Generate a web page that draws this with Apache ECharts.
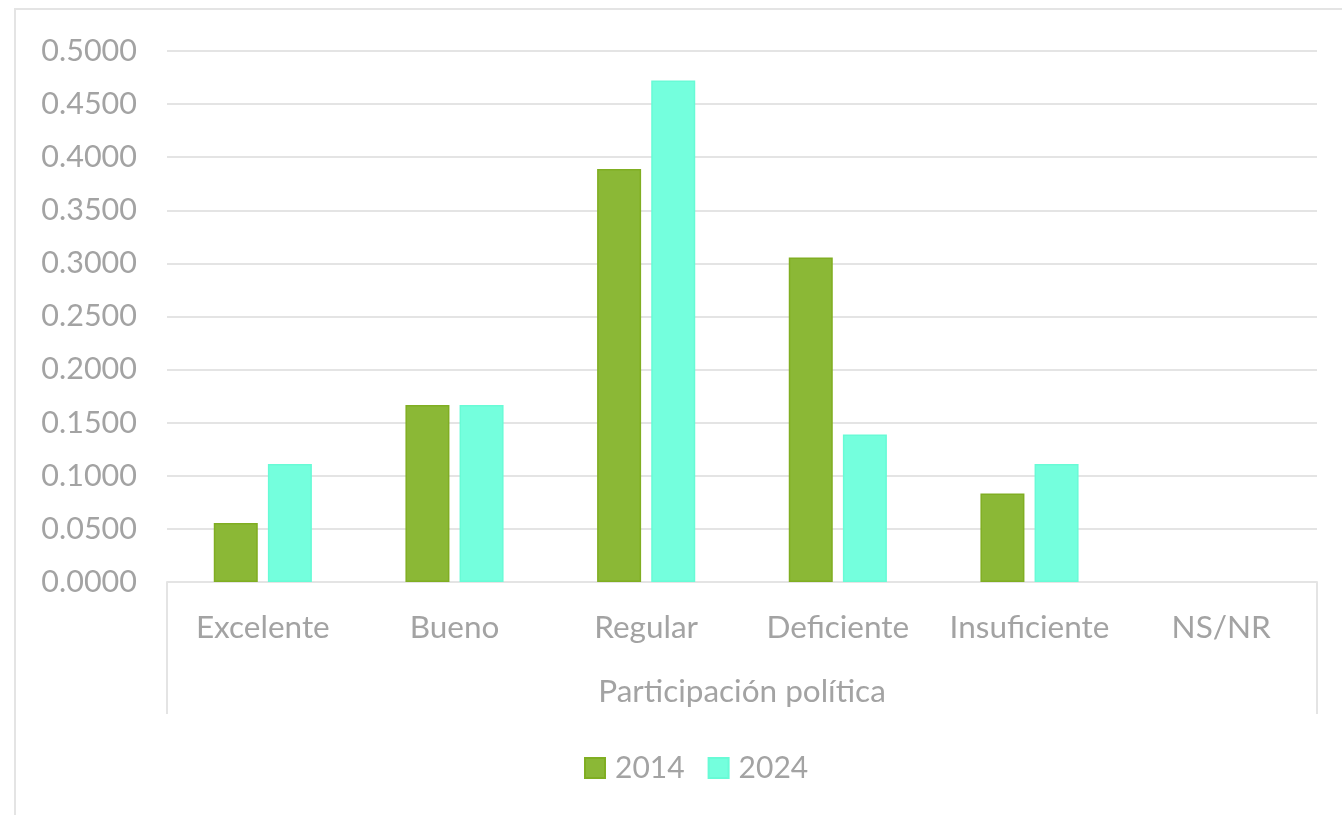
<!DOCTYPE html>
<html>
<head>
<meta charset="utf-8">
<script src="https://cdn.jsdelivr.net/npm/echarts@6/dist/echarts.min.js"></script>
<style>
html,body{margin:0;padding:0;background:#fff;}
#main{width:1342px;height:815px;}
</style>
</head>
<body>
<div id="main"></div>
<script>
const categories = ['Excelente', 'Bueno', 'Regular', 'Deficiente', 'Insuficiente', 'NS/NR'];
const values2014 = [0.0556, 0.1667, 0.3889, 0.3056, 0.0833, 0];
const values2024 = [0.1111, 0.1667, 0.4722, 0.1389, 0.1111, 0];
const seriesNames = ['2014', '2024'];
const axisTitle = 'Participación política';

const textColor = '#a3a3a3';
const lineColor = '#e4e4e4';
const font = 'Lato';

function toData(arr) {
  return arr.map(v => v === 0 ? {value: v, itemStyle: {borderWidth: 0, opacity: 0}} : v);
}

const chart = echarts.init(document.getElementById('main'));
chart.setOption({
  animation: false,
  backgroundColor: '#fff',
  graphic: [{
    type: 'rect',
    shape: {x: 15, y: 9, width: 1400, height: 900},
    style: {fill: 'none', stroke: lineColor, lineWidth: 2},
    silent: true
  }],
  grid: {left: 167, right: 25, top: 51, bottom: 233, containLabel: false},
  legend: {
    data: seriesNames,
    top: 748,
    left: 579,
    icon: 'rect',
    itemWidth: 20,
    itemHeight: 20,
    itemGap: 23,
    textStyle: {color: textColor, fontSize: 30, fontFamily: font, padding: [0, 0, 0, 5]}
  },
  xAxis: {
    type: 'category',
    data: categories,
    name: axisTitle,
    nameLocation: 'middle',
    nameGap: 94,
    nameTextStyle: {color: textColor, fontSize: 31.5, fontFamily: font},
    axisLine: {show: true, lineStyle: {color: lineColor, width: 2}},
    axisTick: {show: true, length: 132, interval: function (i) { return i === 0; }, lineStyle: {color: lineColor, width: 2}},
    axisLabel: {color: textColor, fontSize: 31.5, fontFamily: font, margin: 30, interval: 0}
  },
  yAxis: {
    type: 'value',
    min: 0,
    max: 0.5,
    interval: 0.05,
    axisLine: {show: false},
    axisTick: {show: false},
    splitLine: {lineStyle: {color: lineColor, width: 2}},
    axisLabel: {color: textColor, fontSize: 30.5, fontFamily: font, margin: 30, formatter: v => v.toFixed(4)}
  },
  series: [
    {
      name: seriesNames[0], type: 'bar', data: toData(values2014),
      barWidth: 44, barGap: '23%',
      itemStyle: {color: '#8bb836', borderColor: '#80ae22', borderWidth: 1.5}
    },
    {
      name: seriesNames[1], type: 'bar', data: toData(values2024),
      barWidth: 44,
      itemStyle: {color: '#74ffdd', borderColor: '#68fbd6', borderWidth: 1.5}
    }
  ]
});
</script>
</body>
</html>
